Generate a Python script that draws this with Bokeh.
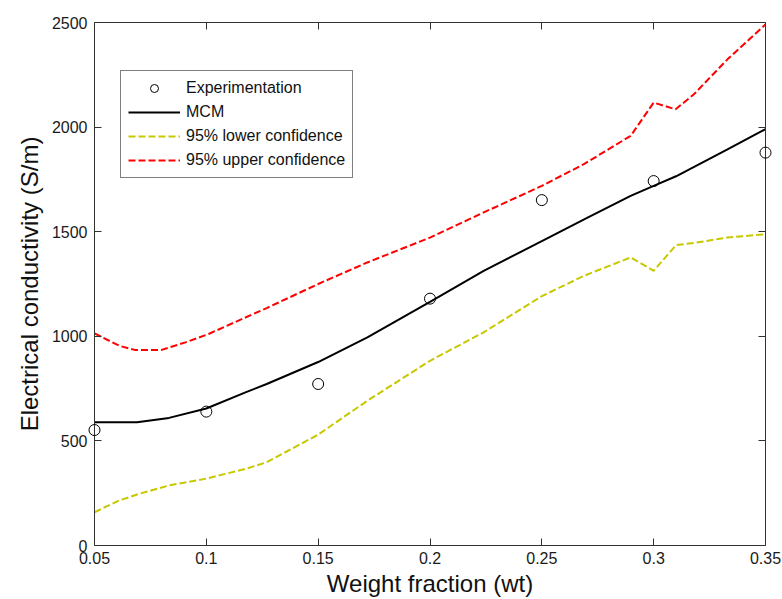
from bokeh.plotting import figure
from bokeh.models import Range1d, LinearAxis, FixedTicker, Legend, LegendItem
from bokeh.embed import file_html
from bokeh.resources import INLINE

# ---------------- data ----------------
x_exp = [0.05, 0.10, 0.15, 0.20, 0.25, 0.30, 0.35]
y_exp = [552, 640, 772, 1180, 1651, 1742, 1878]

x_mcm = [0.05, 0.069, 0.0833, 0.10, 0.1175, 0.127, 0.15, 0.172, 0.20, 0.224,
         0.25, 0.27, 0.2897, 0.30, 0.31, 0.333, 0.35]
y_mcm = [589, 589, 610, 655, 732, 772, 877, 995, 1165, 1313,
         1455, 1565, 1671, 1719, 1765, 1894, 1990]

x_low = [0.05, 0.061, 0.07, 0.0833, 0.10, 0.1175, 0.127, 0.15, 0.172, 0.20,
         0.224, 0.25, 0.2688, 0.2897, 0.30, 0.31, 0.319, 0.333, 0.35]
y_low = [159, 215, 247, 287, 320, 366, 398, 530, 692, 883,
         1019, 1192, 1289, 1377, 1313, 1436, 1448, 1472, 1488]

x_up = [0.05, 0.061, 0.068, 0.080, 0.0907, 0.101, 0.1175, 0.127, 0.15, 0.172,
        0.20, 0.224, 0.25, 0.2688, 0.2897, 0.30, 0.3098, 0.318, 0.333, 0.35]
y_up = [1014, 955, 935, 935, 971, 1011, 1090, 1135, 1250, 1353,
        1472, 1592, 1719, 1823, 1958, 2117, 2085, 2157, 2324, 2491]

x_ticks = [0.05, 0.10, 0.15, 0.20, 0.25, 0.30, 0.35]
x_tick_labels = ["0.05", "0.1", "0.15", "0.2", "0.25", "0.3", "0.35"]
y_ticks = [0, 500, 1000, 1500, 2000, 2500]
y_tick_labels = ["0", "500", "1000", "1500", "2000", "2500"]

labels = ["Experimentation", "MCM", "95% lower confidence", "95% upper confidence"]
x_title = "Weight fraction (wt)"
y_title = "Electrical conductivity (S/m)"

FONT = "Liberation Sans"
AXC = "#333333"

p = figure(width=782, height=599, output_backend="svg", toolbar_location=None,
           x_range=Range1d(0.05, 0.35), y_range=Range1d(0, 2500),
           min_border_left=94, min_border_right=17, min_border_top=22,
           min_border_bottom=54)
p.grid.visible = False
p.outline_line_color = AXC
p.outline_line_width = 1
p.background_fill_color = "white"
p.border_fill_color = "white"

# main axes
for ax, ticks, tl in ((p.xaxis[0], x_ticks, x_tick_labels), (p.yaxis[0], y_ticks, y_tick_labels)):
    ax.ticker = FixedTicker(ticks=ticks)
    ax.major_label_overrides = {t: s for t, s in zip(ticks, tl)}
    ax.minor_tick_line_color = None
    ax.major_tick_in = 7
    ax.major_tick_out = 0
    ax.axis_line_color = AXC
    ax.major_tick_line_color = AXC
    ax.major_label_text_font = FONT
    ax.major_label_text_font_size = "16px"
    ax.major_label_text_color = "#1a1a1a"
    ax.axis_label_text_font = FONT
    ax.axis_label_text_font_size = "24px"
    ax.axis_label_text_font_style = "normal"
    ax.axis_label_text_color = "#111111"

p.xaxis[0].axis_label = x_title
p.xaxis[0].major_label_standoff = 6
p.xaxis[0].axis_label_standoff = 3
p.yaxis[0].axis_label = y_title
p.yaxis[0].major_label_standoff = 7
p.yaxis[0].axis_label_standoff = 6

# box axes (ticks only, no labels)
top = LinearAxis(ticker=FixedTicker(ticks=x_ticks), major_label_text_font_size="1px",
                 major_label_text_color=None,
                 major_tick_in=7, major_tick_out=0, minor_tick_line_color=None,
                 axis_line_color=AXC, major_tick_line_color=AXC, major_label_standoff=0)
right = LinearAxis(ticker=FixedTicker(ticks=y_ticks), major_label_text_font_size="1px",
                   major_label_text_color=None,
                   major_tick_in=7, major_tick_out=0, minor_tick_line_color=None,
                   axis_line_color=AXC, major_tick_line_color=AXC, major_label_standoff=0)
p.add_layout(top, "above")
p.add_layout(right, "right")

# series
r_low = p.line(x_low, y_low, line_color="#c8c800", line_width=2, line_dash="7 3")
r_up = p.line(x_up, y_up, line_color="#ff0000", line_width=2, line_dash="7 3")
r_mcm = p.line(x_mcm, y_mcm, line_color="black", line_width=2)
r_exp = p.scatter(x_exp, y_exp, marker="circle", size=11, fill_color=None,
                  line_color="black", line_width=1, level="overlay")

legend = Legend(items=[LegendItem(label=labels[0], renderers=[r_exp]),
                       LegendItem(label=labels[1], renderers=[r_mcm]),
                       LegendItem(label=labels[2], renderers=[r_low]),
                       LegendItem(label=labels[3], renderers=[r_up])],
                location=(26, 367))
legend.label_text_font = FONT
legend.label_text_font_size = "16px"
legend.label_text_color = "#111111"
legend.glyph_width = 52
legend.glyph_height = 20
legend.label_height = 20
legend.label_standoff = 6
legend.spacing = 4
legend.padding = 7
legend.margin = 0
legend.border_line_color = "black"
legend.border_line_width = 1
legend.background_fill_color = "white"
legend.background_fill_alpha = 1
p.add_layout(legend)

open("out.html", "w").write(file_html(p, INLINE))
